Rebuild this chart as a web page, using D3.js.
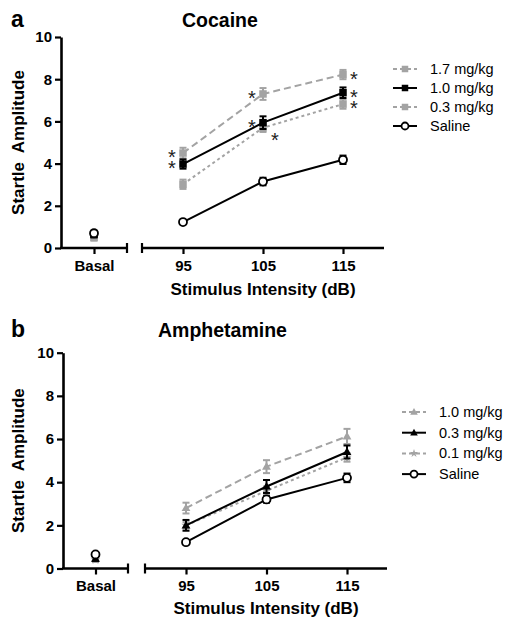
<!DOCTYPE html>
<html><head><meta charset="utf-8">
<script src="https://cdn.jsdelivr.net/npm/d3@7/dist/d3.min.js"></script>
<style>
body{margin:0;background:#fff;}
svg{display:block;font-family:"Liberation Sans",Arial,sans-serif;}
</style></head>
<body><svg id="c" width="514" height="631"></svg>
<script>
// ---------- data ----------
const categories = ["Basal", "95", "105", "115"];
const intensities = [95, 105, 115];
const yTicks = [0, 2, 4, 6, 8, 10];

// Cocaine (values: Basal, 95, 105, 115)
const cocaineLabels = ["1.7 mg/kg", "1.0 mg/kg", "0.3 mg/kg", "Saline"];
const cocaine17 = [0.6, 4.5, 7.3, 8.22];
const cocaine17Err = [0.15, 0.25, 0.28, 0.22];
const cocaine10 = [0.65, 3.98, 5.94, 7.36];
const cocaine10Err = [0.15, 0.22, 0.3, 0.25];
const cocaine03 = [0.5, 3.02, 5.7, 6.82];
const cocaine03Err = [0.15, 0.22, 0.2, 0.22];
const cocaineSal = [0.7, 1.23, 3.15, 4.18];
const cocaineSalErr = [0.12, 0.08, 0.18, 0.2];
// significance asterisks: groups of [series index] at a category, placed to a side
const cocaineStarGroups = [
  {cat: 1, side: "l", series: [0, 1]},
  {cat: 2, side: "l", series: [0]},
  {cat: 2, side: "l", series: [1]},
  {cat: 2, side: "rb", series: [2]},
  {cat: 3, side: "r", series: [0]},
  {cat: 3, side: "r", series: [1, 2]}
];

// Amphetamine
const amphLabels = ["1.0 mg/kg", "0.3 mg/kg", "0.1 mg/kg", "Saline"];
const amph10 = [0.45, 2.8, 4.72, 6.12];
const amph10Err = [0.1, 0.25, 0.3, 0.35];
const amph03 = [0.45, 2.0, 3.8, 5.4];
const amph03Err = [0.1, 0.25, 0.3, 0.3];
const amph01 = [0.4, 2.0, 3.6, 5.15];
const amph01Err = [0.1, 0.15, 0.2, 0.2];
const amphSal = [0.65, 1.22, 3.2, 4.2];
const amphSalErr = [0.1, 0.08, 0.15, 0.2];

const GRAY = "#a3a3a3";
const svg = d3.select("#c");

const styles = {
  grayLong: {stroke: GRAY, dash: "7,4", fill: GRAY},
  black: {stroke: "#000", dash: null, fill: "#000"},
  grayShort: {stroke: GRAY, dash: "3,3", fill: GRAY},
  saline: {stroke: "#000", dash: null, fill: "#fff"}
};

function marker(g, type, st, x, y, s) {
  if (type === "square") {
    g.append("rect").attr("x", x - s/2).attr("y", y - s/2).attr("width", s).attr("height", s)
      .attr("fill", st.fill);
  } else if (type === "circle") {
    g.append("circle").attr("cx", x).attr("cy", y).attr("r", s/2 - 0.5)
      .attr("fill", "#fff").attr("stroke", "#000").attr("stroke-width", 1.8);
  } else if (type === "triangle") {
    g.append("path").attr("d", d3.symbol(d3.symbolTriangle, s*s*0.6)())
      .attr("transform", `translate(${x},${y+0.5})`).attr("fill", st.fill);
  } else if (type === "star") {
    g.append("path").attr("d", d3.symbol(d3.symbolStar, s*s*0.5)())
      .attr("transform", `translate(${x},${y})`).attr("fill", st.fill);
  }
}

function drawPanel(cfg) {
  const g = svg.append("g");
  const y = d3.scaleLinear().domain([0, 10]).range([cfg.y0, cfg.y1]);
  const xb = d3.scalePoint().domain([categories[0]]).range([cfg.ax, cfg.basalEnd]).padding(0.5);
  const xl = d3.scaleLinear().domain([95, 115]).range([cfg.x95, cfg.x115]);
  const xPos = i => i === 0 ? xb(categories[0]) : xl(intensities[i-1]);

  // y axis
  const ya = g.append("g").attr("transform", `translate(${cfg.ax},0)`)
    .call(d3.axisLeft(y).tickValues(yTicks).tickSize(6).tickSizeOuter(0).tickPadding(3));
  ya.select(".domain").attr("stroke-width", 2.6);
  ya.selectAll(".tick line").attr("stroke-width", 2.2);
  ya.selectAll("text").attr("font-size", 15).attr("font-weight", "bold").attr("fill", "#000")
    .attr("font-family", "Liberation Sans, Arial, sans-serif");

  // x axis: basal segment
  const xa1 = g.append("g").attr("transform", `translate(0,${cfg.y0})`)
    .call(d3.axisBottom(xb).tickSize(6).tickSizeOuter(0).tickPadding(6));
  xa1.select(".domain").remove();
  // x axis: intensity segment
  const xa2 = g.append("g").attr("transform", `translate(0,${cfg.y0})`)
    .call(d3.axisBottom(xl).tickValues(intensities).tickSize(6).tickSizeOuter(0).tickPadding(6));
  xa2.select(".domain").remove();
  [xa1, xa2].forEach(a => {
    a.selectAll(".tick line").attr("stroke-width", 2.2);
    a.selectAll("text").attr("font-size", 15).attr("font-weight", "bold").attr("fill", "#000")
      .attr("font-family", "Liberation Sans, Arial, sans-serif");
  });
  const segs = [[cfg.ax - 1, cfg.basalEnd], [cfg.mainStart, cfg.mainEnd]];
  segs.forEach(s => g.append("line").attr("x1", s[0]).attr("x2", s[1])
    .attr("y1", cfg.y0).attr("y2", cfg.y0).attr("stroke", "#000").attr("stroke-width", 2.6));
  [cfg.basalEnd, cfg.mainStart].forEach(xx => g.append("line").attr("x1", xx).attr("x2", xx)
    .attr("y1", cfg.y0 - 5).attr("y2", cfg.y0 + 5).attr("stroke", "#000").attr("stroke-width", 2.2));

  // labels
  g.append("text").attr("x", cfg.letterX).attr("y", cfg.titleY).text(cfg.letter)
    .attr("font-size", 23).attr("font-weight", "bold");
  g.append("text").attr("x", cfg.titleX).attr("y", cfg.titleY).text(cfg.title)
    .attr("font-size", 19.5).attr("font-weight", "bold");
  g.append("text").attr("transform", `translate(${cfg.ylabX},${(cfg.y0 + cfg.y1)/2}) rotate(-90)`)
    .attr("text-anchor", "middle").attr("font-size", 17).attr("font-weight", "bold")
    .attr("xml:space", "preserve").text("Startle  Amplitude");
  g.append("text").attr("x", (cfg.mainStart + cfg.mainEnd)/2).attr("y", cfg.xlabY)
    .attr("text-anchor", "middle").attr("font-size", 17).attr("font-weight", "bold")
    .text("Stimulus Intensity (dB)");

  // series
  const line = d3.line().x(d => xPos(d.i)).y(d => y(d.v));
  const drawOrder = [2, 0, 1, 3];
  drawOrder.forEach(si => {
    const s = cfg.series[si];
    const st = styles[s.style];
    const pts = s.values.map((v, i) => ({i, v}));
    g.append("path").datum(pts.slice(1)).attr("d", line).attr("fill", "none")
      .attr("stroke", st.stroke).attr("stroke-width", 2)
      .attr("stroke-dasharray", st.dash);
    pts.forEach(p => {
      const e = s.err[p.i];
      const x = xPos(p.i);
      const eg = g.append("g").attr("stroke", st.stroke === GRAY ? GRAY : "#000").attr("stroke-width", 2);
      eg.append("line").attr("x1", x).attr("x2", x).attr("y1", y(p.v - e)).attr("y2", y(p.v + e));
      [p.v - e, p.v + e].forEach(vv => eg.append("line").attr("x1", x - 3.5).attr("x2", x + 3.5)
        .attr("y1", y(vv)).attr("y2", y(vv)));
      marker(g, s.marker, st, x, y(p.v), s.marker === "circle" ? 9 : 7.5);
    });
  });

  // asterisks (stacked ones share a single text element)
  (cfg.starGroups || []).forEach(grp => {
    const ys = grp.series.map(si => y(cfg.series[si].values[grp.cat]));
    let x = xPos(grp.cat);
    let dy = 0;
    if (grp.side === "l") x -= 11;
    if (grp.side === "r") x += 11;
    if (grp.side === "rb") { x += 12; dy = 8; }
    const t = g.append("text").attr("text-anchor", "middle").attr("font-size", 20).attr("fill", "#222");
    ys.forEach((yy, k) => {
      t.append("tspan").attr("x", x).attr("y", yy + dy + 11).text("*");
    });
  });

  // legend
  cfg.series.forEach((s, k) => {
    const st = styles[s.style];
    const ly = cfg.legY + k * cfg.legStep;
    g.append("line").attr("x1", cfg.legX).attr("x2", cfg.legX + 24).attr("y1", ly).attr("y2", ly)
      .attr("stroke", st.stroke).attr("stroke-width", 2).attr("stroke-dasharray", st.dash ? "4,3" : null);
    marker(g, s.marker, st, cfg.legX + 12, ly, s.marker === "circle" ? 8 : 6.5);
    g.append("text").attr("x", cfg.legX + 37).attr("y", ly + 5).attr("font-size", 14.5).text(s.label);
  });
}

drawPanel({
  letter: "a", title: "Cocaine", letterX: 11, titleX: 182, titleY: 27,
  ax: 61, y0: 248, y1: 37, basalEnd: 127, mainStart: 142, mainEnd: 384,
  x95: 183, x115: 343, ylabX: 24, xlabY: 295,
  legX: 393, legY: 69, legStep: 19,
  series: [
    {label: cocaineLabels[0], values: cocaine17, err: cocaine17Err, style: "grayLong", marker: "square"},
    {label: cocaineLabels[1], values: cocaine10, err: cocaine10Err, style: "black", marker: "square"},
    {label: cocaineLabels[2], values: cocaine03, err: cocaine03Err, style: "grayShort", marker: "square"},
    {label: cocaineLabels[3], values: cocaineSal, err: cocaineSalErr, style: "saline", marker: "circle"}
  ],
  starGroups: cocaineStarGroups
});

drawPanel({
  letter: "b", title: "Amphetamine", letterX: 11, titleX: 158, titleY: 337,
  ax: 63, y0: 568.5, y1: 352.7, basalEnd: 128, mainStart: 145, mainEnd: 387,
  x95: 186, x115: 347, ylabX: 24, xlabY: 614,
  legX: 402, legY: 412, legStep: 20.7,
  series: [
    {label: amphLabels[0], values: amph10, err: amph10Err, style: "grayLong", marker: "triangle"},
    {label: amphLabels[1], values: amph03, err: amph03Err, style: "black", marker: "triangle"},
    {label: amphLabels[2], values: amph01, err: amph01Err, style: "grayShort", marker: "star"},
    {label: amphLabels[3], values: amphSal, err: amphSalErr, style: "saline", marker: "circle"}
  ],
  starGroups: []
});
</script></body></html>
